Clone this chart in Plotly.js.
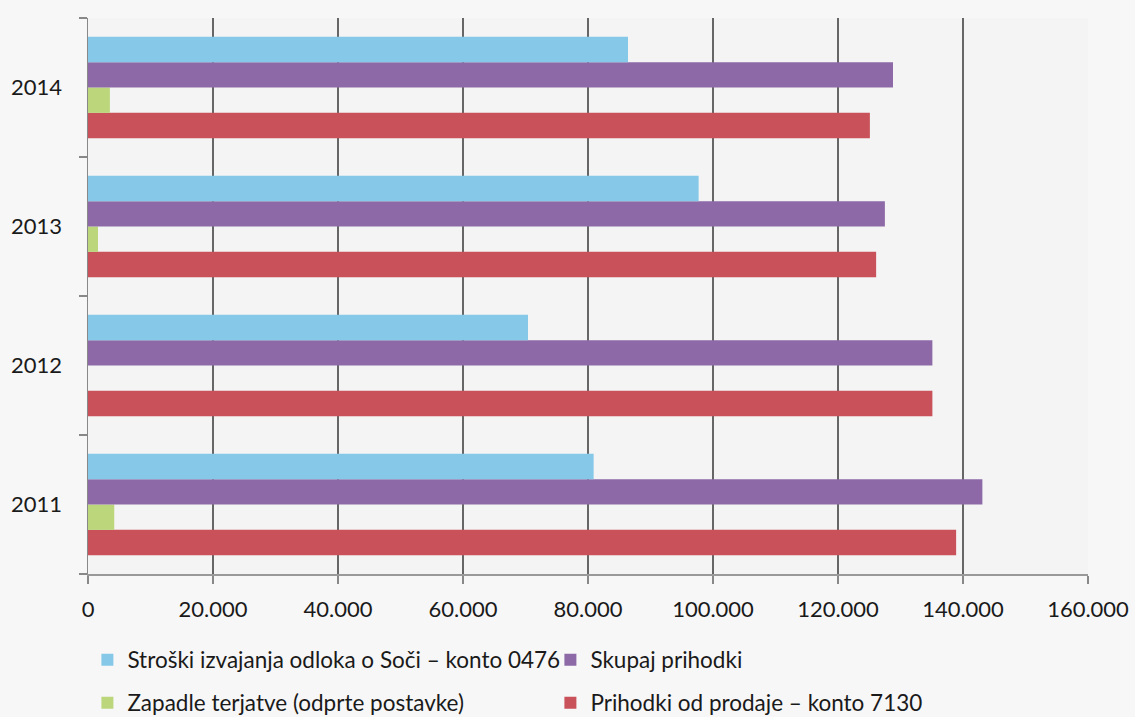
<!DOCTYPE html>
<html>
<head>
<meta charset="utf-8">
<script src="https://cdn.plot.ly/plotly-3.0.1.min.js"></script>
<style>html,body{margin:0;padding:0;background:#f7f7f7;}#chart{width:1135px;height:717px;}</style>
</head>
<body>
<div id="chart"></div>
<script>
const years = ['2011', '2012', '2013', '2014'];
const stroski = [80900, 70400, 97700, 86400];
const skupajPrihodki = [143100, 135100, 127500, 128800];
const zapadleTerjatve = [4200, 0, 1600, 3500];
const prihodkiProdaje = [138900, 135100, 126100, 125100];
const xTicks = [0, 20000, 40000, 60000, 80000, 100000, 120000, 140000, 160000];

const names = {
  stroski: 'Stroški izvajanja odloka o Soči – konto 0476',
  skupaj: 'Skupaj prihodki',
  zapadle: 'Zapadle terjatve (odprte postavke)',
  prodaja: 'Prihodki od prodaje – konto 7130'
};

function bar(name, vals, color, legend) {
  return {type: 'bar', orientation: 'h', y: years, x: vals, name: name,
    marker: {color: color, line: {width: 0}}, legend: legend, hoverinfo: 'x+name'};
}

const traces = [
  bar(names.prodaja, prihodkiProdaje, '#c9525a', 'legend2'),
  bar(names.zapadle, zapadleTerjatve, '#bcd67c', 'legend2'),
  bar(names.skupaj, skupajPrihodki, '#8d6aa7', 'legend'),
  bar(names.stroski, stroski, '#86c8e8', 'legend')
];

const fontFam = 'Lato, "Open Sans", sans-serif';
const legendFont = {size: 22.5, family: fontFam, color: '#1a1a1a'};
const layout = {
  width: 1135, height: 717,
  margin: {l: 88, r: 47, t: 18, b: 143},
  paper_bgcolor: '#f7f7f7', plot_bgcolor: '#f4f4f4',
  separators: ',.',
  barmode: 'group', bargap: 0.27, bargroupgap: 0,
  font: {family: fontFam, color: '#1a1a1a', size: 22},
  xaxis: {
    range: [0, 160000], tickvals: xTicks, tickformat: ',d',
    showgrid: true, gridcolor: '#666', gridwidth: 1.3,
    zeroline: false, showline: true, linecolor: '#999', linewidth: 1.5,
    ticks: 'outside', ticklen: 8, tickcolor: '#888', tickwidth: 1.3,
    ticklabelstandoff: 7,
    tickfont: {size: 22, family: fontFam, color: '#1a1a1a'}
  },
  yaxis: {
    type: 'category', categoryorder: 'array', categoryarray: years,
    showgrid: false, zeroline: false, showline: true, linecolor: '#888', linewidth: 1.5,
    ticks: 'outside', tickson: 'boundaries', ticklen: 8, tickcolor: '#888', tickwidth: 1.3,
    ticklabelstandoff: 20,
    tickfont: {size: 22, family: fontFam, color: '#1a1a1a'}
  },
  legend: {
    orientation: 'h', xref: 'container', yref: 'container',
    x: 0.077, y: 1 - 660/717, xanchor: 'left', yanchor: 'middle',
    traceorder: 'reversed', entrywidth: 418, entrywidthmode: 'pixels',
    bgcolor: 'rgba(0,0,0,0)', font: legendFont
  },
  legend2: {
    orientation: 'h', xref: 'container', yref: 'container',
    x: 0.077, y: 1 - 703/717, xanchor: 'left', yanchor: 'middle',
    traceorder: 'reversed', entrywidth: 418, entrywidthmode: 'pixels',
    bgcolor: 'rgba(0,0,0,0)', font: legendFont
  },
  showlegend: true
};

Plotly.newPlot('chart', traces, layout, {displayModeBar: false, staticPlot: true});
</script>
</body>
</html>
